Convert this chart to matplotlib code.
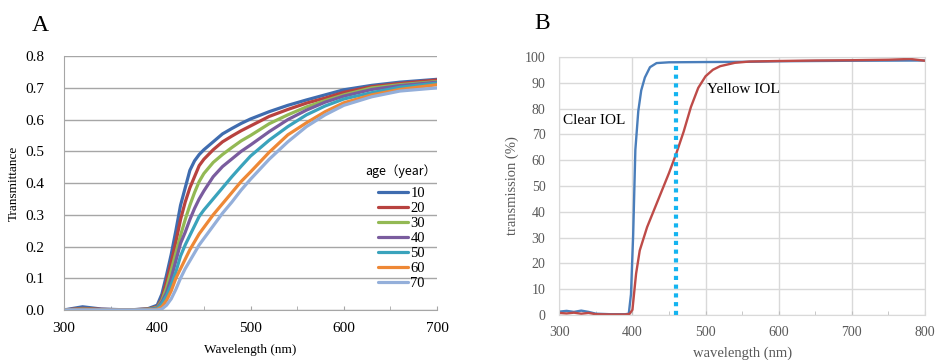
# Two-panel figure: lens transmittance by age (A) and IOL transmission (B)

import numpy as np
import matplotlib.pyplot as plt

plt.rcParams['font.family'] = ['Liberation Serif', 'DejaVu Serif']

# ---- panel A data: transmittance of the crystalline lens by age ----
wl_a = [300, 320, 340, 370, 390, 400, 405, 410, 415, 420, 425, 430, 435, 440, 445,
        450, 460, 470, 480, 490, 500, 520, 540, 560, 580, 600, 630, 660, 700]
ages = ["10", "20", "30", "40", "50", "60", "70"]
t_10 = [0.0, 0.010, 0.003, 0.0, 0.004, 0.015, 0.05, 0.11, 0.175, 0.25, 0.33, 0.385, 0.44, 0.47, 0.49,
        0.505, 0.53, 0.555, 0.572, 0.588, 0.602, 0.625, 0.645, 0.662, 0.678, 0.694, 0.708, 0.718, 0.727]
t_20 = [0.0, 0.005, 0.002, 0.0, 0.003, 0.010, 0.035, 0.09, 0.15, 0.215, 0.285, 0.34, 0.385, 0.42, 0.455,
        0.475, 0.505, 0.53, 0.548, 0.565, 0.58, 0.61, 0.632, 0.652, 0.668, 0.686, 0.704, 0.714, 0.725]
t_30 = [0.0, 0.003, 0.001, 0.0, 0.002, 0.008, 0.03, 0.07, 0.125, 0.18, 0.235, 0.285, 0.33, 0.37, 0.405,
        0.43, 0.465, 0.49, 0.512, 0.533, 0.55, 0.587, 0.615, 0.64, 0.66, 0.678, 0.70, 0.71, 0.72]
t_40 = [0.0, 0.002, 0.0, 0.0, 0.001, 0.006, 0.025, 0.055, 0.10, 0.155, 0.21, 0.245, 0.285, 0.32, 0.35,
        0.375, 0.42, 0.452, 0.476, 0.50, 0.52, 0.562, 0.60, 0.63, 0.655, 0.674, 0.695, 0.707, 0.718]
t_50 = [0.0, 0.0, 0.0, 0.0, 0.001, 0.004, 0.02, 0.045, 0.08, 0.12, 0.17, 0.205, 0.235, 0.265, 0.295,
        0.315, 0.35, 0.385, 0.42, 0.453, 0.485, 0.535, 0.578, 0.615, 0.643, 0.665, 0.685, 0.702, 0.715]
t_60 = [0.0, 0.0, 0.0, 0.0, 0.0, 0.002, 0.01, 0.03, 0.06, 0.10, 0.13, 0.16, 0.19, 0.215, 0.24,
        0.26, 0.30, 0.335, 0.37, 0.405, 0.435, 0.497, 0.552, 0.59, 0.625, 0.653, 0.678, 0.695, 0.71]
t_70 = [0.0, 0.0, 0.0, 0.0, 0.0, 0.0, 0.003, 0.015, 0.035, 0.065, 0.10, 0.13, 0.155, 0.18, 0.205,
        0.225, 0.265, 0.305, 0.34, 0.378, 0.412, 0.475, 0.53, 0.578, 0.615, 0.645, 0.672, 0.69, 0.70]
age_colors = ["#3F6CAF", "#B8423F", "#93B954", "#7A5C9E", "#3AA3BC", "#EE8836", "#94AFDA"]

# ---- panel B data: transmission of clear and yellow IOLs (%) ----
wl_clear = [300, 310, 320, 330, 340, 350, 370, 390, 395, 398, 401, 404, 408, 412, 417,
            424, 433, 450, 500, 560, 600, 700, 800]
tr_clear = [1.3, 1.6, 1.2, 1.7, 1.2, 0.5, 0.3, 0.3, 0.5, 8, 31, 64, 79, 87, 92,
            96, 97.6, 97.9, 98.0, 98.1, 98.3, 98.5, 98.6]
wl_yellow = [300, 310, 320, 330, 340, 350, 370, 390, 396, 400, 405, 410, 420, 430, 440,
             450, 460, 470, 480, 490, 500, 510, 520, 540, 560, 600, 650, 700, 750, 780, 800]
tr_yellow = [0.8, 0.6, 0.9, 0.5, 0.8, 0.3, 0.2, 0.2, 0.4, 2, 16, 25, 34, 41, 48,
             55, 62.6, 71, 80.6, 88, 92.5, 95, 96.4, 97.7, 98.2, 98.4, 98.6, 98.7, 98.9, 99.2, 98.5]
marker_wl = 460

fig = plt.figure(figsize=(9.4, 3.6), dpi=100)

# ---------------- panel A ----------------
ax1 = fig.add_axes([0.068, 0.139, 0.397, 0.705])
series = [t_10, t_20, t_30, t_40, t_50, t_60, t_70]
for lab, vals, col in zip(ages, series, age_colors):
    ax1.plot(wl_a, vals, color=col, lw=2.3, label=lab, solid_capstyle='round')
ax1.set_xlim(300, 700)
ax1.set_ylim(0, 0.8)
ax1.set_xticks([300, 400, 500, 600, 700])
ax1.set_xticks([350, 450, 550, 650], minor=True)
ax1.set_yticks(np.arange(0, 0.81, 0.1))
ax1.set_yticklabels(["%.1f" % v for v in np.arange(0, 0.81, 0.1)])
ax1.grid(axis='y', color='#A6A6A6', lw=1.0)
ax1.set_axisbelow(True)
for s in ['top', 'right']:
    ax1.spines[s].set_visible(False)
for s in ['left', 'bottom']:
    ax1.spines[s].set_color('#A6A6A6')
ax1.tick_params(axis='y', length=0, labelsize=11, pad=14)
ax1.tick_params(axis='x', which='both', direction='in', length=3, color='#A6A6A6',
                labelsize=11, pad=9)
ax1.set_xlabel("Wavelength (nm)", fontsize=9.5, labelpad=6)
ax1.set_ylabel("Transmittance", fontsize=9.5, labelpad=4)
leg = ax1.legend(title="age（year）", loc='upper right', bbox_to_anchor=(1.015, 0.595),
                 frameon=False, fontsize=10.5, handlelength=2.1, handletextpad=0.15,
                 labelspacing=0.12, borderaxespad=0)
leg.get_title().set_fontfamily(['Noto Sans CJK JP', 'DejaVu Sans'])
leg.get_title().set_fontsize(9)
leg._legend_box.sep = 6
fig.text(0.034, 0.915, "A", fontsize=17)

# ---------------- panel B ----------------
ax2 = fig.add_axes([0.595, 0.125, 0.389, 0.717])
ax2.plot(wl_clear, tr_clear, color='#4A7EBB', lw=1.7)
ax2.plot(wl_yellow, tr_yellow, color='#BE4B48', lw=1.7)
ax2.plot([marker_wl, marker_wl], [0, 98], color='#14B4F0', lw=3, ls=(0, (1, 1.1)))
ax2.set_xlim(300, 800)
ax2.set_ylim(0, 100)
ax2.set_xticks(np.arange(300, 801, 100))
ax2.set_xticks(np.arange(350, 801, 100), minor=True)
ax2.set_yticks(np.arange(0, 101, 10))
ax2.grid(color='#D9D9D9', lw=1.0)
ax2.set_axisbelow(True)
for s in ax2.spines.values():
    s.set_color('#D9D9D9')
ax2.tick_params(axis='y', length=0, labelsize=10, labelcolor='#595959', pad=10)
ax2.tick_params(axis='x', which='both', direction='in', length=3, color='#BFBFBF',
                labelsize=10, labelcolor='#595959', pad=8)
ax2.set_xlabel("wavelength (nm)", fontsize=10.5, color='#595959', labelpad=5)
ax2.set_ylabel("transmission (%)", fontsize=10.5, color='#595959', labelpad=4)
ax2.text(305, 74, "Clear IOL", fontsize=11)
ax2.text(502, 86, "Yellow IOL", fontsize=11)
fig.text(0.568, 0.92, "B", fontsize=17)

plt.savefig("out.png", dpi=100)
